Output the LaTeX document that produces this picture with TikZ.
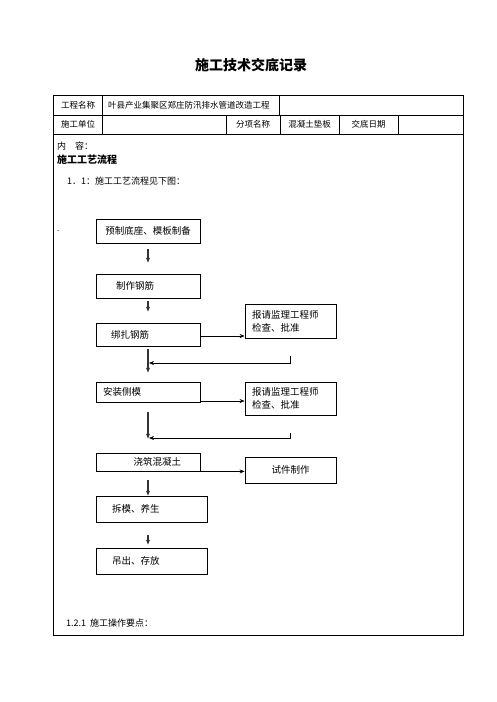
\documentclass[tikz,border=0pt]{standalone}
\usepackage{fontspec}
\setmainfont{Noto Sans CJK SC}
\usetikzlibrary{positioning, calc, arrows.meta}

\tikzset{
    flowbox/.style={draw, line width=0.8pt, minimum width=104pt, inner sep=0pt,
        font=\fontsize{9.5}{11}\selectfont},
    notebox/.style={draw, line width=0.8pt, minimum width=91pt, inner sep=0pt,
        font=\fontsize{9.5}{13}\selectfont},
    cell/.style={inner sep=0pt, font=\fontsize{8.5}{10}\selectfont},
    bodytext/.style={inner sep=0pt, anchor=west, font=\fontsize{9}{11}\selectfont},
    downarrow/.style={-{Stealth[length=5pt,width=4pt]}, line width=1.2pt, black!80},
    sidearrow/.style={-{Stealth[length=5pt,width=4pt]}, line width=0.6pt},
}

\begin{document}
\begin{tikzpicture}[x=1pt, y=-1pt]

    \useasboundingbox (0,0) rectangle (496,702);

    % ================= Title =================
    \node[font=\fontsize{14}{16}\selectfont\bfseries] (title) at (251,65) {施工技术交底记录};

    % ================= Table frame =================
    \draw[line width=0.8pt] (53,95) rectangle (463,635);
    \draw[line width=0.6pt] (53,115) -- (463,115);
    \draw[line width=0.8pt] (53,134) -- (463,134);
    \draw[line width=0.6pt] (102,95) -- (102,134);
    \draw[line width=0.6pt] (279,95) -- (279,115);
    \foreach \cx in {226,280,339,398}
        \draw[line width=0.6pt] (\cx,115) -- (\cx,134);

    % Header cells
    \node[cell] (name)    at (78,105)    {工程名称};
    \node[cell, anchor=west] (project) at (108,105) {叶县产业集聚区郑庄防汛排水管道改造工程};
    \node[cell] (unit)    at (78,124.5)  {施工单位};
    \node[cell] (item)    at (253,124.5) {分项名称};
    \node[cell] (itemval) at (309.5,124.5) {混凝土垫板};
    \node[cell] (date)    at (368.5,124.5) {交底日期};

    % Body text
    \node[bodytext] (content) at (57,146) {内\quad 容：};
    \node[bodytext, font=\fontsize{10}{12}\selectfont\bfseries] (heading) at (57,160) {施工工艺流程};
    \node[bodytext] (intro) at (67,181) {1．1：施工工艺流程见下图：};
    \node[bodytext, font=\fontsize{8}{9}\selectfont] (dot) at (57,231) {.};
    \node[bodytext] (points) at (66,623) {1.2.1\hspace{4pt}施工操作要点：};

    % ================= Main flow =================
    \node[flowbox, minimum height=24pt] (b1) at (148,231) {预制底座、模板制备};
    \node[flowbox, minimum height=24pt, align=left, text width=64pt, inner xsep=20pt] (b2) at (148,286) {制作钢筋};
    \node[flowbox, minimum height=23pt, align=left, text width=74pt, inner xsep=15pt] (b3) at (148,334.5) {绑扎钢筋};
    \node[flowbox, minimum height=20pt, align=left, text width=90pt, inner xsep=7pt] (b4) at (148,392) {安装侧模};
    \node[flowbox, minimum height=18pt, align=right, text width=66pt, inner xsep=19pt] (b5) at (148,462) {浇筑混凝土};
    \node[flowbox, minimum height=26pt, align=left, text width=79pt, inner xsep=16pt] (b6) at (151.5,509) {拆模、养生};
    \node[flowbox, minimum height=26pt, align=left, text width=79pt, inner xsep=16pt] (b7) at (151.5,561) {吊出、存放};

    % ================= Side boxes =================
    \node[notebox, minimum height=34pt, align=left, text width=77pt, inner xsep=7pt] (r1) at (290.5,321) {报请监理工程师\\检查、批准};
    \node[notebox, minimum height=33pt, align=left, text width=77pt, inner xsep=7pt] (r2) at (290.5,398.5) {报请监理工程师\\检查、批准};
    \node[notebox, minimum height=26pt] (r3) at (290.5,470) {试件制作};

    % ================= Arrows =================
    \draw[downarrow, shorten <=6pt, shorten >=11pt] (b1) -- (b2);
    \draw[downarrow, shorten <=3pt, shorten >=11pt] (b2) -- (b3);
    \draw[downarrow, shorten <=3pt, shorten >=9pt] (b3) -- (b4);
    \draw[downarrow, shorten <=10pt, shorten >=14pt] (b4) -- (b5);
    \draw[downarrow, shorten <=9pt] (b5.south) -- (b5.south |- b6.north);
    \draw[downarrow, shorten <=13pt, shorten >=3pt] (b1 |- b6.south) -- (b1 |- b7.north);

    \draw[sidearrow] ([yshift=-1.5pt]b3.east) -- ([yshift=-1.5pt]b3.east -| r1.west);
    \draw[sidearrow] ([yshift=-9pt]b4.east) -- ([yshift=-9pt]b4.east -| r2.west);
    \draw[sidearrow] (b5.south east) -- (b5.south east -| r3.west);

    % Approval returns
    \coordinate (back1) at (290,356);
    \coordinate (join1) at (149,363);
    \coordinate (back2) at (290,433);
    \coordinate (join2) at (149,438);
    \draw[sidearrow] (back1) |- (join1);
    \draw[sidearrow] (back2) |- (join2);

\end{tikzpicture}
\end{document}
